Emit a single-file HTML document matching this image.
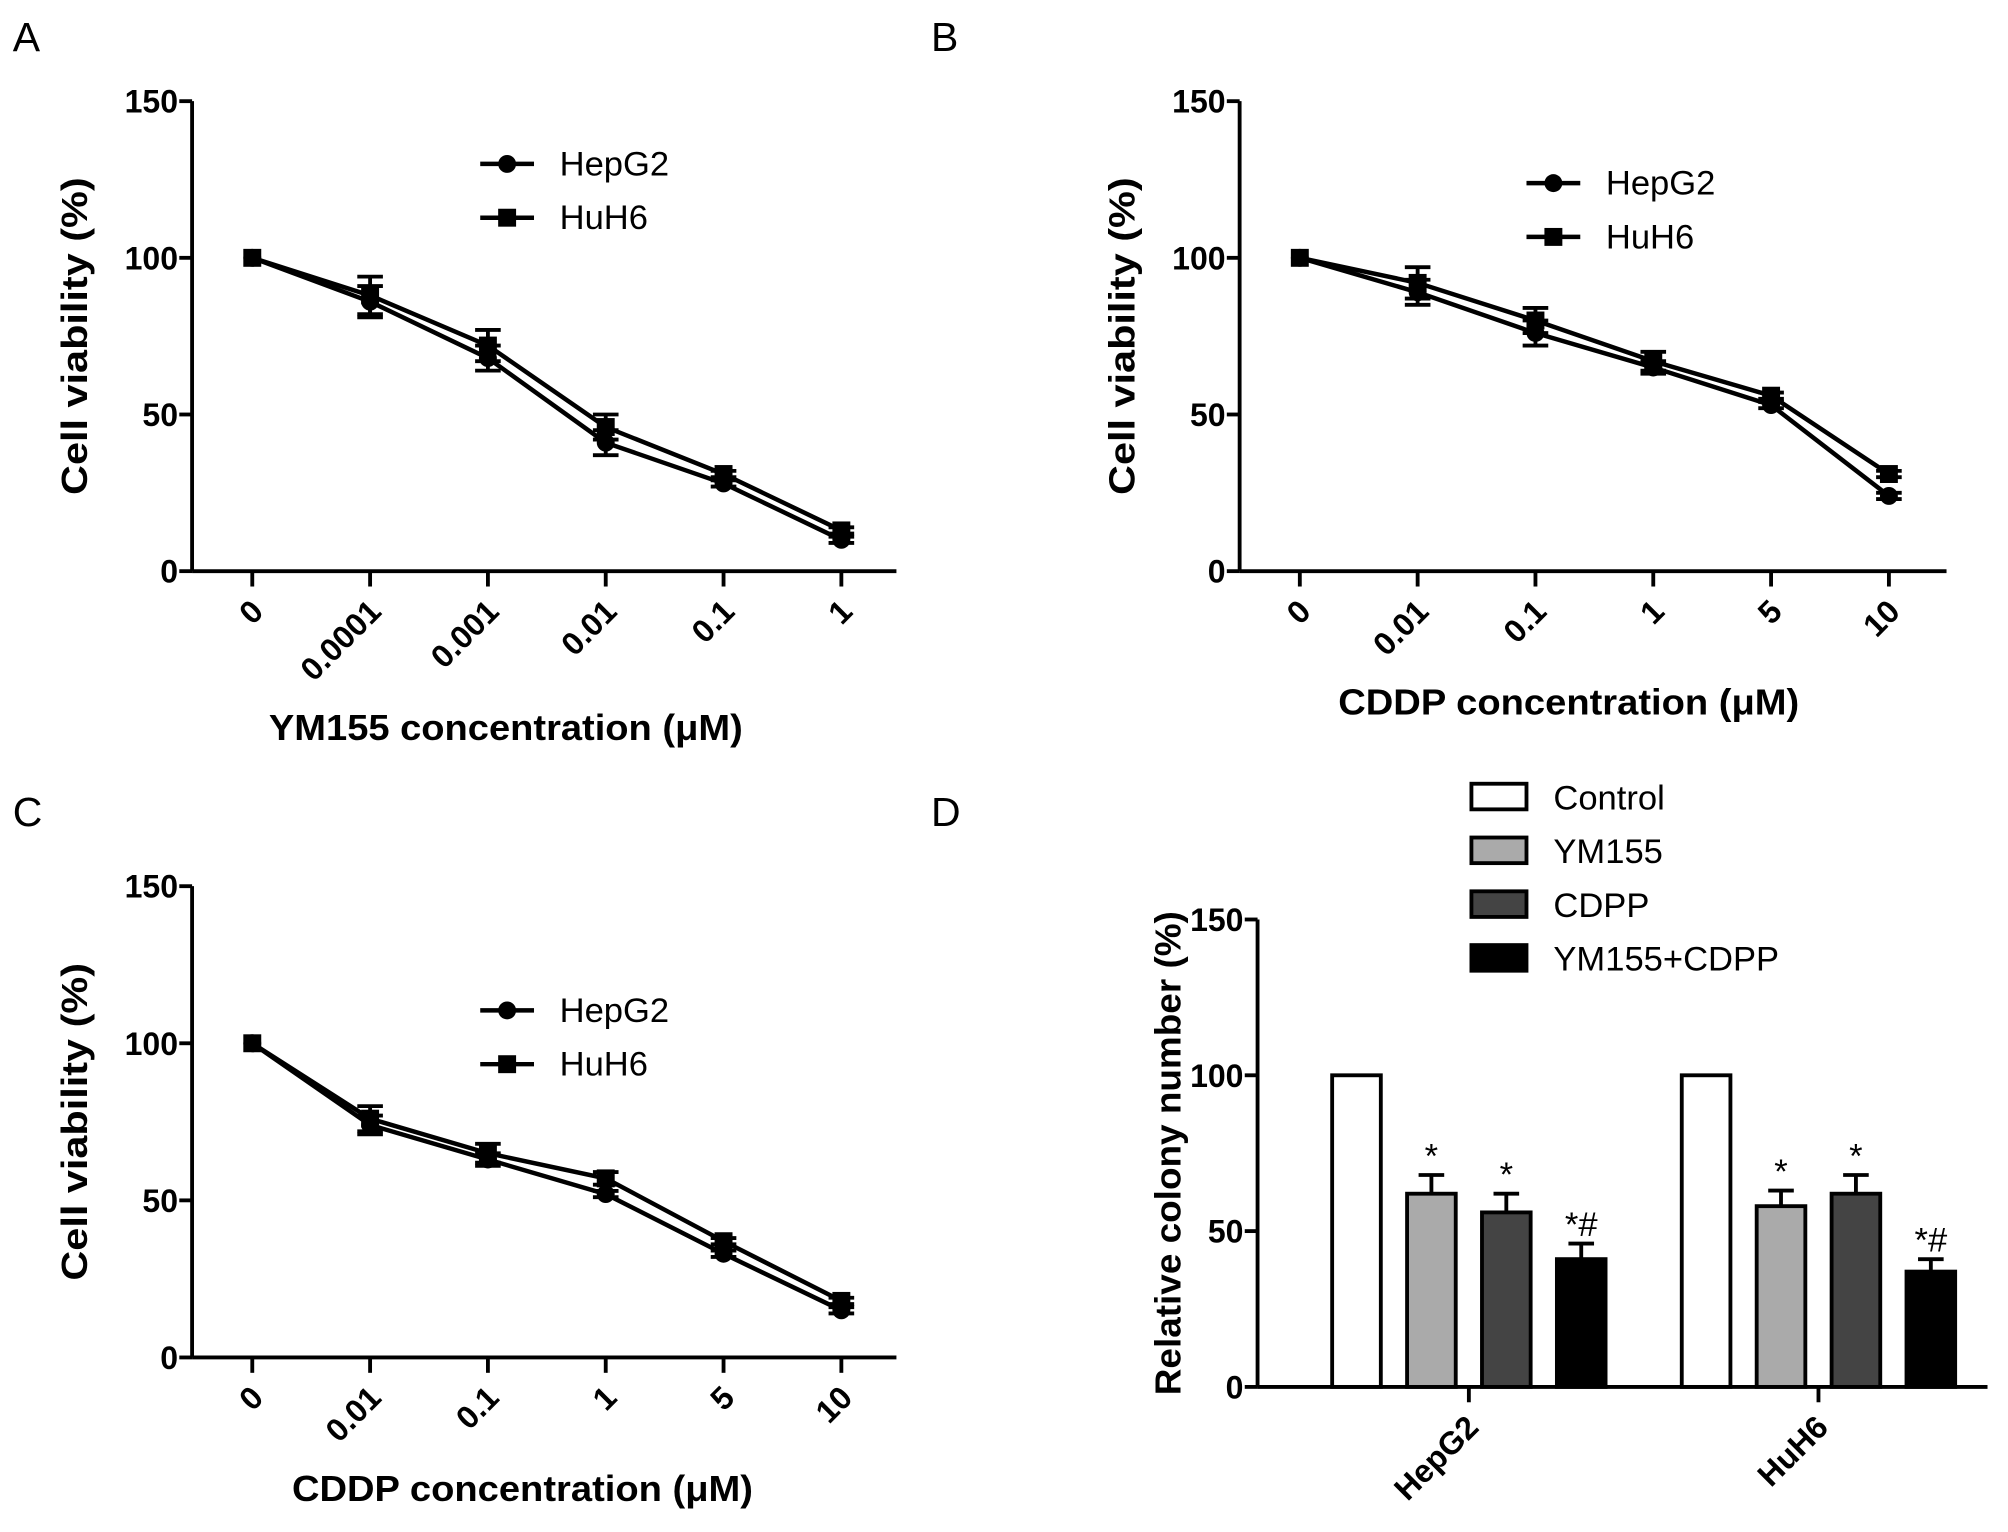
<!DOCTYPE html>
<html><head><meta charset="utf-8"><style>
html,body{margin:0;padding:0;background:#fff;}
svg{display:block;font-family:"Liberation Sans",Arial,sans-serif;}
</style></head><body>
<svg id="fig" width="2008" height="1532" viewBox="0 0 1568 1196.3" preserveAspectRatio="none" xmlns="http://www.w3.org/2000/svg"></svg>
<script>
const catsA = ["0","0.0001","0.001","0.01","0.1","1"];
const hepA = [100,86,68,41,28,10];
const hepAerr = [0,5,4,4,1,1];
const huhA = [100,88,72,46,31,13];
const huhAerr = [0,6,5,4,1,1];
const catsB = ["0","0.01","0.1","1","5","10"];
const hepB = [100,89,76,65,53,24];
const hepBerr = [0,4,4,2,1,1];
const huhB = [100,92,80,67,56,31];
const huhBerr = [0,5,4,3,1,1];
const catsC = ["0","0.01","0.1","1","5","10"];
const hepC = [100,74,63,52,33,15];
const hepCerr = [0,3,2,1,1,1];
const huhC = [100,76,65,57,37,18];
const huhCerr = [0,4,3,2,1,1];
const groupsD = ["HepG2","HuH6"];
const seriesD = ["Control","YM155","CDPP","YM155+CDPP"];
const valsD = [[100,62,56,41],[100,58,62,37]];
const errsD = [[0,6,6,5],[0,5,6,4]];
const marksD = [["","*","*","*#"],["","*","*","*#"]];
const yTicks = [0,50,100,150];

const NS="http://www.w3.org/2000/svg";
const svg=document.getElementById('fig');
function mk(tag,attrs,parent,txt){const e=document.createElementNS(NS,tag);for(const k in attrs)e.setAttribute(k,attrs[k]);if(txt!==undefined)e.textContent=txt;(parent||svg).appendChild(e);return e;}

function axesY(g,ax,y0,y150,xEnd,title,titleX,titleLen){
  const ys=v=>y0-(y0-y150)*v/150;
  const yl=mk('line',{x1:ax,y1:y150,x2:ax,y2:y0,stroke:'#000','stroke-width':3},g);
  
  
  const xl=mk('line',{x1:ax,y1:y0,x2:xEnd,y2:y0,stroke:'#000','stroke-width':3},g);
  
  
  yTicks.forEach(t=>{
    mk('line',{x1:ax-10,y1:ys(t),x2:ax,y2:ys(t),stroke:'#000','stroke-width':3},g);
    const tl=mk('text',{x:ax-11,y:ys(t)+9,'text-anchor':'end','font-size':25,'font-weight':'bold'},g,t);
    
    
  });
  const tt=mk('text',{x:0,y:0,'text-anchor':'middle','font-size':28,'font-weight':'bold',textLength:titleLen,lengthAdjust:'spacingAndGlyphs',transform:`translate(${titleX},${(y0+y150)/2}) rotate(-90)`},g,title);
  
  
  return ys;
}

function linePanel(name,letter,lx,ly,ax,y0,y150,x0,dx,xEnd,cats,hep,hepE,huh,huhE,xtitle,xtx,xty,xtl,legX,legY){
  const g=mk('g',{});
  
  
  const L=mk('text',{x:lx,y:ly,'font-size':32},g,letter);
  
  
  const ys=axesY(g,ax,y0,y150,xEnd,'Cell viability (%)',ax-82,248);
  const xs=i=>x0+dx*i;
  cats.forEach((c,i)=>{
    mk('line',{x1:xs(i),y1:y0,x2:xs(i),y2:y0+12,stroke:'#000','stroke-width':3},g);
    const t=mk('text',{x:0,y:0,'text-anchor':'end','font-size':25,'font-weight':'bold',transform:`translate(${xs(i)+10},${y0+33}) rotate(-45)`},g,c);
    
    
  });
  const xt=mk('text',{x:xtx,y:xty,'text-anchor':'middle','font-size':28,'font-weight':'bold',textLength:xtl,lengthAdjust:'spacingAndGlyphs'},g,xtitle);
  
  
  [[hep,hepE,'circle','HepG2'],[huh,huhE,'square','HuH6']].forEach(([vals,errs,shape,nm])=>{
    const pts=vals.map((v,i)=>xs(i)+','+ys(v)).join(' ');
    const pl=mk('polyline',{points:pts,fill:'none',stroke:'#000','stroke-width':3.5},g);
    
    
    vals.forEach((v,i)=>{
      const e=errs[i];
      if(e>0){
        mk('line',{x1:xs(i),y1:ys(v+e),x2:xs(i),y2:ys(v-e),stroke:'#000','stroke-width':3},g);
        mk('line',{x1:xs(i)-10,y1:ys(v+e),x2:xs(i)+10,y2:ys(v+e),stroke:'#000','stroke-width':3},g);
        mk('line',{x1:xs(i)-10,y1:ys(v-e),x2:xs(i)+10,y2:ys(v-e),stroke:'#000','stroke-width':3},g);
      }
      let m;
      if(shape==='circle') m=mk('circle',{cx:xs(i),cy:ys(v),r:7,fill:'#000'},g);
      else m=mk('rect',{x:xs(i)-7,y:ys(v)-7,width:14,height:14,fill:'#000'},g);
      
      
    });
  });
  [['circle','HepG2'],['square','HuH6']].forEach(([s,nm],k)=>{
    const yy=legY+k*42;
    const lg=mk('g',{},g);
    
    
    mk('line',{x1:legX,y1:yy,x2:legX+42,y2:yy,stroke:'#000','stroke-width':3.5},lg);
    if(s==='circle') mk('circle',{cx:legX+21,cy:yy,r:7,fill:'#000'},lg);
    else mk('rect',{x:legX+14,y:yy-7,width:14,height:14,fill:'#000'},lg);
    mk('text',{x:legX+62,y:yy+9,'font-size':27},lg,nm);
  });
}

linePanel('panel-a','A',10,40,150,446,79,197,92,700,catsA,hepA,hepAerr,huhA,huhAerr,'YM155 concentration (\u03bcM)',395,578,370,375,128);
linePanel('panel-b','B',727,40,968,446,79,1015,92,1520,catsB,hepB,hepBerr,huhB,huhBerr,'CDDP concentration (\u03bcM)',1225,558,360,1192,143);
linePanel('panel-c','C',10,645,150,1060,692,197,92,700,catsC,hepC,hepCerr,huhC,huhCerr,'CDDP concentration (\u03bcM)',408,1172,360,375,789);

(function(){
  const g=mk('g',{});
  
  
  const L=mk('text',{x:727,y:645,'font-size':32},g,'D');
  
  
  const ax=982,y0=1083,y150=718;
  const ys=axesY(g,ax,y0,y150,1552,'Relative colony number (%)',ax-60,378);
  const fills=['#fff','#aaa','#444','#000'];
  const gc=[1147,1420], bw=38, step=58.5;
  groupsD.forEach((grp,gi)=>{
    mk('line',{x1:gc[gi],y1:y0,x2:gc[gi],y2:y0+12,stroke:'#000','stroke-width':3},g);
    const t=mk('text',{x:0,y:0,'text-anchor':'end','font-size':25,'font-weight':'bold',transform:`translate(${gc[gi]+9},${y0+33}) rotate(-45)`},g,grp);
    
    
    valsD[gi].forEach((v,si)=>{
      const cx=gc[gi]+(si-1.5)*step;
      const b=mk('rect',{x:cx-bw/2,y:ys(v),width:bw,height:y0-ys(v),fill:fills[si],stroke:'#000','stroke-width':3},g);
      
      
      const e=errsD[gi][si];
      if(e>0){
        mk('line',{x1:cx,y1:ys(v),x2:cx,y2:ys(v+e),stroke:'#000','stroke-width':3},g);
        mk('line',{x1:cx-10,y1:ys(v+e),x2:cx+10,y2:ys(v+e),stroke:'#000','stroke-width':3},g);
      }
      const mtxt=marksD[gi][si];
      if(mtxt){
        const m=mk('text',{x:cx,y:ys(v+e)-6,'text-anchor':'middle','font-size':27},g,mtxt);
        
        
      }
    });
  });
  seriesD.forEach((s,i)=>{
    const yy=612+i*42;
    const lg=mk('g',{},g);
    
    
    mk('rect',{x:1149,y:yy,width:43,height:20,fill:fills[i],stroke:'#000','stroke-width':3},lg);
    mk('text',{x:1213,y:yy+20,'font-size':27},lg,s);
  });
})();
</script>
</body></html>
